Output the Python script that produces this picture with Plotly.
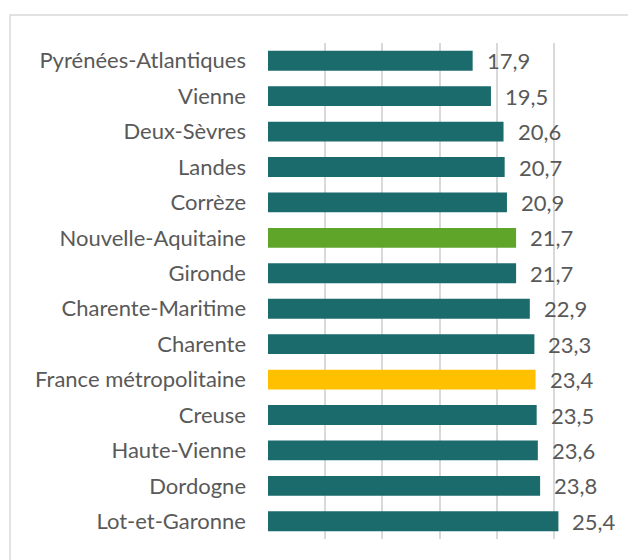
import plotly.graph_objects as go

categories = ["Pyrénées-Atlantiques", "Vienne", "Deux-Sèvres", "Landes", "Corrèze",
              "Nouvelle-Aquitaine", "Gironde", "Charente-Maritime", "Charente",
              "France métropolitaine", "Creuse", "Haute-Vienne", "Dordogne", "Lot-et-Garonne"]
values = [17.9, 19.5, 20.6, 20.7, 20.9, 21.7, 21.7, 22.9, 23.3, 23.4, 23.5, 23.6, 23.8, 25.4]

TEAL = "#1b6b6c"
GREEN = "#5ea52a"
YELLOW = "#ffc000"
colors = [GREEN if c == "Nouvelle-Aquitaine" else YELLOW if c == "France métropolitaine" else TEAL
          for c in categories]

FONT = "Lato"
TXT = "#595959"

fig = go.Figure(go.Bar(
    x=values, y=categories, orientation="h",
    marker=dict(color=colors, line=dict(width=0)),
    width=0.56, hoverinfo="skip",
))

for c, v in zip(categories, values):
    fig.add_annotation(x=v, y=c, text=f"{v:.1f}".replace(".", ","), showarrow=False,
                       xanchor="left", xshift=12, yshift=0,
                       font=dict(family=FONT, size=22, color=TXT))

W_PLOT = 611 - 268
H_PLOT = 539 - 43
fig.add_shape(type="rect", xref="paper", yref="paper",
              x0=(10 - 268) / W_PLOT, x1=(640 - 268) / W_PLOT,
              y0=-30 / H_PLOT, y1=1 + 28 / H_PLOT,
              line=dict(color="#d9d9d9", width=1.5), fillcolor="rgba(0,0,0,0)", layer="below")

fig.update_layout(
    width=628, height=560,
    margin=dict(l=268, r=17, t=43, b=21, autoexpand=False),
    paper_bgcolor="white", plot_bgcolor="white",
    showlegend=False, separators=", ",
    bargap=0.44,
    xaxis=dict(range=[0, 30], dtick=5, showgrid=True, gridcolor="#d9d9d9", gridwidth=1.5,
               showticklabels=False, zeroline=False, showline=False, fixedrange=True),
    yaxis=dict(autorange="reversed", showgrid=False, showline=False, ticks="",
               ticklabelstandoff=21, automargin=False,
               tickfont=dict(family=FONT, size=22, color=TXT), fixedrange=True),
)

fig.write_html("out.html", config={"displayModeBar": False},
               post_script="document.body.style.margin='0';document.body.style.overflow='hidden';")
